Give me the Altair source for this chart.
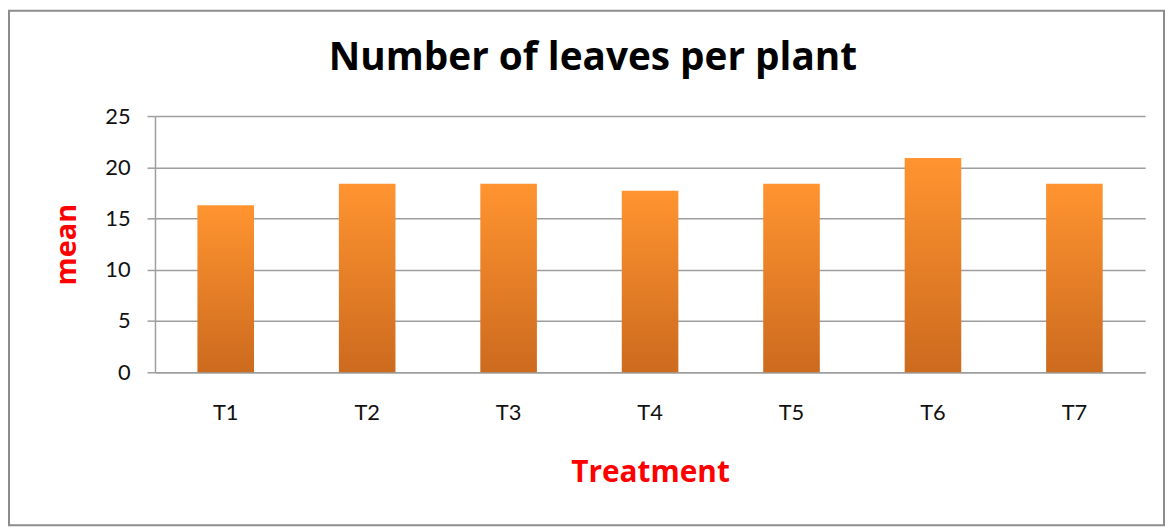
import altair as alt
import pandas as pd

treatments = ["T1", "T2", "T3", "T4", "T5", "T6", "T7"]
means = [16.3, 18.4, 18.4, 17.7, 18.4, 20.9, 18.4]
y_ticks = [0, 5, 10, 15, 20, 25]
chart_title = ["Number of leaves per plant"]

df = pd.DataFrame({"Treatment": treatments, "mean": means})

W, H = 997, 258
FONT = "Lato"
BFONT = "Open Sans"
GRID = "#9E9E9E"

gradient = alt.Gradient(
    gradient="linear",
    stops=[alt.GradientStop(color="#FF9430", offset=0),
           alt.GradientStop(color="#CC6A1E", offset=1)],
    x1=0, x2=0, y1=0, y2=1,
)

bars = alt.Chart(df).mark_bar(fill=gradient).encode(
    x=alt.X("Treatment:N", sort=treatments,
            scale=alt.Scale(paddingInner=0.6, paddingOuter=0.3),
            axis=alt.Axis(title="Treatment", labelAngle=0, ticks=False,
                          labelFont=FONT, labelFontSize=22, labelColor="#111111",
                          labelPadding=31, domainColor=GRID, domainWidth=1.5,
                          titleFont=BFONT, titleFontSize=30, titleFontWeight="bold",
                          titleColor="#FF0000", titlePadding=34)),
    y=alt.Y("mean:Q", scale=alt.Scale(domain=[0, 25]),
            axis=alt.Axis(title="mean", values=y_ticks, grid=True, gridColor=GRID,
                          gridWidth=1.5, tickColor=GRID, tickSize=8, tickWidth=1.5,
                          domainColor=GRID, domainWidth=1.5,
                          labelFont=FONT, labelFontSize=22, labelColor="#111111",
                          labelPadding=17,
                          titleFont=BFONT, titleFontSize=29, titleFontWeight="bold",
                          titleColor="#FF0000", titlePadding=24)),
)

title = alt.Chart(pd.DataFrame({"t": chart_title})).mark_text(
    font=BFONT, fontSize=39, fontWeight="bold", color="#000000",
    align="center", baseline="alphabetic",
).encode(text="t:N", x=alt.value(441), y=alt.value(-46))

frame = alt.Chart(pd.DataFrame({"k": [0]})).mark_rect(
    filled=False, stroke="#8C8C8C", strokeWidth=2
).encode(
    x=alt.value(-147), x2=alt.value(1016),
    y=alt.value(-106), y2=alt.value(412),
)

chart = alt.layer(frame, bars, title).properties(
    width=W, height=H,
    autosize=alt.AutoSizeParams(type="none"),
    padding={"left": 148, "top": 107, "right": 21, "bottom": 156},
    background="white",
).configure_view(stroke=None)

chart.save("out.html", embed_options={"renderer": "svg", "actions": False})
